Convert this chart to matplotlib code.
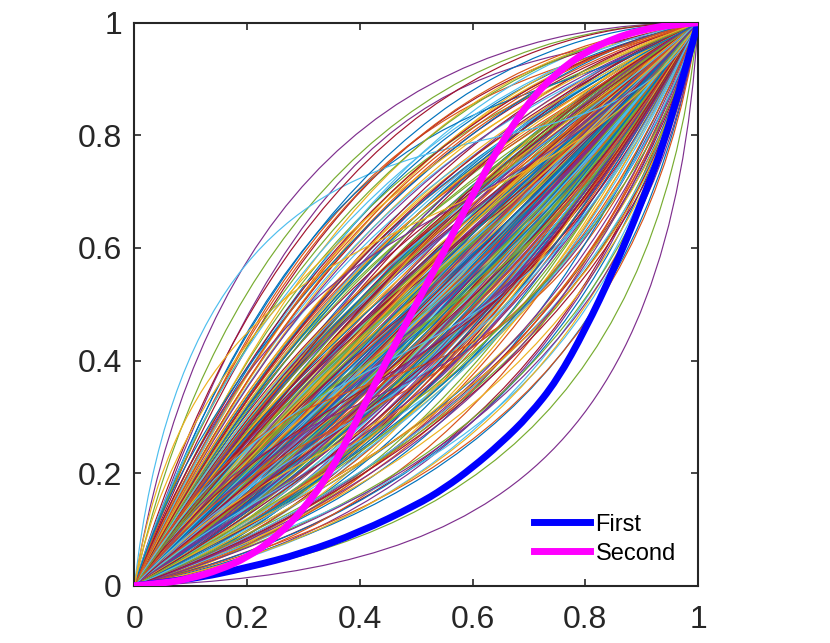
import matplotlib
matplotlib.use("Agg")
import matplotlib.pyplot as plt
from matplotlib.path import Path
from matplotlib.patches import PathPatch
from matplotlib.lines import Line2D

# ---------------- data ----------------
# thick "First" curve
first_x = [0, 0.1, 0.2, 0.3, 0.4, 0.5, 0.55, 0.6, 0.65, 0.7, 0.75, 0.8,
           0.85, 0.9, 0.95, 1.0]
first_y = [0, 0.011, 0.032, 0.058, 0.095, 0.143, 0.173, 0.21, 0.253, 0.302,
           0.365, 0.455, 0.56, 0.68, 0.815, 1.0]

# thick "Second" curve
second_x = [0, 0.05, 0.1, 0.15, 0.2, 0.25, 0.3, 0.35, 0.4, 0.45, 0.5, 0.55,
            0.6, 0.65, 0.7, 0.75, 0.8, 0.85, 0.9, 0.95, 1.0]
second_y = [0, 0.004, 0.013, 0.028, 0.05, 0.085, 0.135, 0.205, 0.305, 0.405,
            0.5, 0.595, 0.695, 0.785, 0.86, 0.912, 0.948, 0.972, 0.987,
            0.996, 1.0]

series_labels = ["First", "Second"]

# thin background curves: cubic Bezier curves from (0,0) to (1,1)
curve_start = (0.0, 0.0)
curve_end = (1.0, 1.0)
bulk_ctrl1_x = 1 / 3
bulk_ctrl2_x = 2 / 3
# control-point heights (first / second control point) of the thin curves
bulk_u = [
    0.32, 0.18, 0.45, 0.27, 0.60, 0.11, 0.38, 0.50, 0.22, 0.35,
    0.41, 0.29, 0.14, 0.56, 0.33, 0.24, 0.68, 0.19, 0.47, 0.30,
    0.25, 0.52, 0.37, 0.08, 0.43, 0.62, 0.28, 0.16, 0.35, 0.73,
    0.20, 0.39, 0.31, 0.55, 0.12, 0.46, 0.26, 0.64, 0.34, 0.23,
    0.48, 0.17, 0.36, 0.29, 0.58, 0.42, 0.21, 0.70, 0.31, 0.10,
    0.27, 0.53, 0.40, 0.15, 0.33, 0.61, 0.24, 0.44, 0.37, 0.19,
    0.35, 0.22, 0.49, 0.30, 0.66, 0.13, 0.41, 0.28, 0.57, 0.38,
    0.44, 0.31, 0.18, 0.59, 0.26, 0.50, 0.36, 0.09, 0.46, 0.23,
    0.30, 0.63, 0.40, 0.20, 0.52, 0.34, 0.15, 0.45, 0.28, 0.71,
    0.38, 0.25, 0.54, 0.32, 0.12, 0.47, 0.29, 0.60, 0.21, 0.42,
    0.16, 0.35, 0.27, 0.51, 0.40, 0.23, 0.67, 0.33, 0.48, 0.19,
    0.43, 0.30, 0.57, 0.14, 0.37, 0.25, 0.49, 0.32, 0.62, 0.27,
    0.34, 0.20, 0.45, 0.39, 0.28, 0.55, 0.11, 0.36, 0.24, 0.50,
    0.26, 0.41, 0.18, 0.65, 0.31, 0.47, 0.38, 0.22, 0.58, 0.35,
    0.52, 0.29, 0.39, 0.13, 0.44, 0.33, 0.70, 0.25, 0.40, 0.17,
    0.31, 0.48, 0.23, 0.36, 0.60, 0.28, 0.42, 0.19, 0.53, 0.37,
    0.21, 0.44, 0.33, 0.57, 0.26, 0.39, 0.15, 0.50, 0.30, 0.64,
    0.36, 0.24, 0.47, 0.32, 0.10, 0.55, 0.41, 0.27, 0.68, 0.34,
    0.45, 0.19, 0.38, 0.29, 0.52, 0.22, 0.35, 0.61, 0.43, 0.14,
    0.28, 0.40, 0.54, 0.17, 0.33, 0.49, 0.25, 0.37, 0.72, 0.30,
    0.39, 0.26, 0.46, 0.35, 0.12, 0.58, 0.31, 0.21, 0.44, 0.53,
    0.24, 0.36, 0.62, 0.29, 0.42, 0.18, 0.50, 0.34, 0.27, 0.40,
    0.47, 0.33, 0.20, 0.56, 0.38, 0.26, 0.66, 0.30, 0.43, 0.15,
    0.32, 0.51, 0.27, 0.41, 0.23, 0.60, 0.36, 0.45, 0.19, 0.55,
    0.37, 0.22, 0.48, 0.30, 0.63, 0.35, 0.13, 0.42, 0.28, 0.50,
    0.29, 0.45, 0.34, 0.16, 0.52, 0.39, 0.25, 0.58, 0.33, 0.20,
    0.10, 0.35, 0.50, 0.08, 0.28, 0.45, 0.15, 0.60, 0.22, 0.40,
    0.18, 0.55, 0.30, 0.12, 0.42, 0.06, 0.25, 0.48, 0.35, 0.20,
    0.75, 0.90, 0.68, 1.00, 0.80, 0.72, 0.85, 0.95, 0.70, 0.78,
]
bulk_v = [
    0.58, 0.52, 0.70, 0.49, 0.82, 0.41, 0.55, 0.79, 0.63, 0.66,
    0.62, 0.71, 0.44, 0.74, 0.60, 0.57, 0.88, 0.36, 0.69, 0.51,
    0.47, 0.80, 0.68, 0.33, 0.61, 0.78, 0.64, 0.50, 0.56, 0.91,
    0.59, 0.54, 0.72, 0.67, 0.46, 0.83, 0.40, 0.85, 0.62, 0.53,
    0.65, 0.39, 0.77, 0.56, 0.72, 0.59, 0.66, 0.80, 0.48, 0.52,
    0.73, 0.64, 0.50, 0.55, 0.69, 0.90, 0.45, 0.76, 0.58, 0.62,
    0.49, 0.68, 0.81, 0.61, 0.76, 0.43, 0.70, 0.52, 0.66, 0.75,
    0.57, 0.63, 0.58, 0.87, 0.51, 0.71, 0.64, 0.38, 0.78, 0.47,
    0.69, 0.74, 0.60, 0.48, 0.86, 0.55, 0.62, 0.67, 0.42, 0.84,
    0.66, 0.60, 0.73, 0.50, 0.55, 0.80, 0.58, 0.70, 0.54, 0.63,
    0.40, 0.72, 0.57, 0.62, 0.68, 0.65, 0.79, 0.46, 0.75, 0.59,
    0.52, 0.64, 0.85, 0.47, 0.59, 0.70, 0.66, 0.74, 0.72, 0.44,
    0.61, 0.56, 0.63, 0.77, 0.53, 0.68, 0.49, 0.57, 0.67, 0.88,
    0.50, 0.69, 0.61, 0.81, 0.74, 0.56, 0.71, 0.45, 0.64, 0.60,
    0.76, 0.55, 0.48, 0.51, 0.70, 0.62, 0.89, 0.65, 0.73, 0.43,
    0.67, 0.58, 0.52, 0.75, 0.82, 0.46, 0.61, 0.57, 0.79, 0.54,
    0.63, 0.73, 0.59, 0.69, 0.41, 0.66, 0.53, 0.60, 0.71, 0.78,
    0.55, 0.48, 0.77, 0.64, 0.45, 0.72, 0.58, 0.68, 0.86, 0.50,
    0.62, 0.60, 0.70, 0.47, 0.65, 0.54, 0.76, 0.83, 0.57, 0.46,
    0.71, 0.51, 0.68, 0.56, 0.62, 0.87, 0.43, 0.74, 0.92, 0.59,
    0.48, 0.66, 0.79, 0.55, 0.39, 0.73, 0.69, 0.51, 0.64, 0.60,
    0.58, 0.76, 0.80, 0.45, 0.67, 0.49, 0.63, 0.72, 0.54, 0.85,
    0.69, 0.52, 0.57, 0.75, 0.61, 0.71, 0.82, 0.60, 0.50, 0.48,
    0.64, 0.66, 0.46, 0.73, 0.62, 0.77, 0.56, 0.81, 0.53, 0.70,
    0.74, 0.44, 0.59, 0.68, 0.84, 0.51, 0.50, 0.65, 0.60, 0.78,
    0.56, 0.72, 0.63, 0.42, 0.67, 0.80, 0.59, 0.71, 0.47, 0.65,
    0.30, 0.20, 0.15, 0.35, 0.25, 0.30, 0.40, 0.10, 0.28, 0.35,
    0.33, 0.25, 0.38, 0.22, 0.20, 0.45, 0.32, 0.40, 0.30, 0.42,
    0.92, 0.88, 0.95, 0.90, 0.85, 0.97, 0.93, 0.80, 0.90, 0.96,
]

# outlying thin curves: both control points free
out_c1x = [0.10, 0.12, 0.12, 0.15, 0.16, 0.20, 0.12, 0.30, 0.15, 0.10,
           0.20, 0.12, 0.18, 0.10, 0.60, 0.50, 0.45, 0.40, 0.50, 0.35,
           0.45, 0.30, 0.40, 0.50,
           0.40, 0.45, 0.35, 0.50, 0.30, 0.42, 0.38, 0.48, 0.33, 0.45,
           0.36, 0.52, 0.40, 0.28, 0.44, 0.45, 0.50, 0.42, 0.48]
out_c1y = [0.60, 0.55, 1.05, 0.50, 0.48, 0.55, 0.75, 0.75, 0.45, 0.35,
           0.50, 0.40, 0.42, 0.50, 0.02, 0.05, 0.08, 0.10, 0.12, 0.06,
           0.15, 0.05, 0.12, 0.18,
           0.15, 0.20, 0.12, 0.22, 0.10, 0.18, 0.14, 0.25, 0.16, 0.12,
           0.20, 0.18, 0.22, 0.12, 0.16, 0.10, 0.12, 0.08, 0.14]
out_c2x = [0.40, 0.45, 0.80, 0.45, 0.48, 0.50, 0.70, 0.60, 0.50, 0.45,
           0.55, 0.60, 0.50, 0.60, 0.95, 0.92, 0.85, 0.80, 0.85, 0.75,
           0.90, 0.80, 0.88, 0.85,
           0.85, 0.88, 0.82, 0.90, 0.80, 0.86, 0.90, 0.88, 0.84, 0.86,
           0.88, 0.84, 0.90, 0.82, 0.92, 0.88, 0.90, 0.86, 0.90]
out_c2y = [1.00, 1.00, 0.62, 1.00, 0.99, 0.95, 0.55, 0.55, 0.95, 0.90,
           0.90, 0.92, 0.88, 0.85, 0.20, 0.25, 0.35, 0.30, 0.40, 0.30,
           0.45, 0.25, 0.35, 0.30,
           0.45, 0.50, 0.40, 0.55, 0.38, 0.42, 0.48, 0.45, 0.50, 0.52,
           0.40, 0.48, 0.58, 0.46, 0.50, 0.30, 0.35, 0.32, 0.40]

tick_values = [0, 0.2, 0.4, 0.6, 0.8, 1]
tick_labels = ["0", "0.2", "0.4", "0.6", "0.8", "1"]

# ---------------- style ----------------
matlab_colors = ["#0072BD", "#D95319", "#EDB120", "#7E2F8E",
                 "#77AC30", "#4DBEEE", "#A2142F"]
axis_color = "#262626"
first_color = "#0000FF"
second_color = "#FF00FF"
thick_lw = 5.0
plt.rcParams["font.family"] = ["Liberation Sans", "DejaVu Sans"]

fig = plt.figure(figsize=(8.30, 6.43), dpi=100)
ax = fig.add_axes([0.162, 0.0891, 0.679, 0.8756])

ctrl = [(bulk_ctrl1_x, u, bulk_ctrl2_x, v) for u, v in zip(bulk_u, bulk_v)]
ctrl += list(zip(out_c1x, out_c1y, out_c2x, out_c2y))
codes4 = [Path.MOVETO, Path.CURVE4, Path.CURVE4, Path.CURVE4]
for i, (px1, py1, px2, py2) in enumerate(ctrl):
    p = Path([curve_start, (px1, py1), (px2, py2), curve_end], codes4)
    ax.add_patch(PathPatch(p, fill=False, lw=0.85,
                           edgecolor=matlab_colors[i % len(matlab_colors)],
                           zorder=1))


def smooth_path(xs, ys):
    """Quadratic B-spline path using the read points as control points."""
    pts = list(zip(xs, ys))
    verts = [pts[0]]
    codes = [Path.MOVETO]
    for k in range(1, len(pts) - 2):
        mid = ((pts[k][0] + pts[k + 1][0]) / 2, (pts[k][1] + pts[k + 1][1]) / 2)
        verts += [pts[k], mid]
        codes += [Path.CURVE3, Path.CURVE3]
    verts += [pts[-2], pts[-1]]
    codes += [Path.CURVE3, Path.CURVE3]
    return Path(verts, codes)


ax.add_patch(PathPatch(smooth_path(first_x, first_y), fill=False,
                       lw=thick_lw, edgecolor=first_color,
                       capstyle="round", joinstyle="round", zorder=3))
ax.add_patch(PathPatch(smooth_path(second_x, second_y), fill=False,
                       lw=thick_lw, edgecolor=second_color,
                       capstyle="round", joinstyle="round", zorder=4))

ax.set_xlim(0, 1)
ax.set_ylim(0, 1)
ax.set_xticks(tick_values)
ax.set_xticklabels(tick_labels)
ax.set_yticks(tick_values)
ax.set_yticklabels(tick_labels)
ax.tick_params(direction="in", length=5, width=1.2, colors=axis_color,
               labelsize=23, top=True, right=True)
ax.tick_params(axis="x", pad=14)
ax.tick_params(axis="y", pad=9)
for s in ax.spines.values():
    s.set_linewidth(1.5)
    s.set_color(axis_color)

handles = [Line2D([], [], color=first_color, lw=thick_lw),
           Line2D([], [], color=second_color, lw=thick_lw)]
leg = ax.legend(handles, series_labels, loc="upper left",
                bbox_to_anchor=(0.709, 0.128),
                frameon=False, fontsize=17, handlelength=2.35,
                handletextpad=0.25, labelspacing=0.3, borderpad=0,
                borderaxespad=0)

fig.savefig("out.png", dpi=100)
